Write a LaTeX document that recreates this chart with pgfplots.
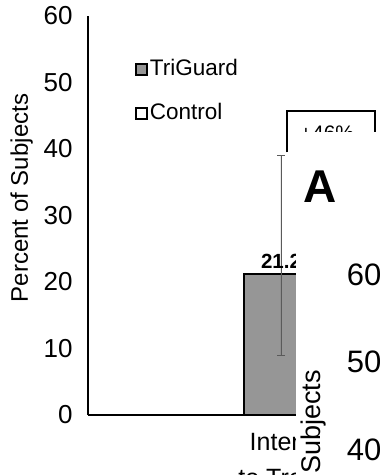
\documentclass[border=0pt]{standalone}
\usepackage{fontspec}
\setmainfont{Liberation Sans}
\usepackage{pgfplots}
\pgfplotsset{compat=1.18}
\definecolor{barGray}{RGB}{150,150,150}
\definecolor{errGray}{RGB}{90,90,90}
\begin{document}
\begin{tikzpicture}[x=1pt,y=1pt]
\useasboundingbox (0,0) rectangle (380,475);
\clip (0,0) rectangle (380,475);
\begin{axis}[
  at={(88pt,60pt)}, anchor=south west,
  scale only axis, width=300pt, height=399pt,
  xmin=0, xmax=300, ymin=0, ymax=60,
  axis x line=bottom, axis y line=left,
  axis line style={-, line width=1.8pt, black},
  ytick={0,10,20,30,40,50,60},
  xtick={193}, xticklabels={Intent\\[6pt]to Treat},
  xticklabel style={align=center, font=\fontsize{25}{30}\selectfont, yshift=-15pt},
  major tick length=0pt,
  /pgf/number format/assume math mode=true,
  yticklabel style={font=\fontsize{26}{30}\selectfont, xshift=-12pt},
  legend cell align=left,
  legend style={draw=none, fill=none, at={(0.155,0.897)}, anchor=north west,
    font=\fontsize{22.5}{26}\selectfont, row sep=19pt, inner sep=0pt,
    nodes={inner sep=2pt, text height=16pt, text depth=5pt}},
  clip=false,
]
\addplot[ybar, bar width=74pt, bar shift=0pt, fill=barGray, draw=black, line width=1.8pt,
  legend image code/.code={\draw[fill=barGray, draw=black, line width=2.2pt] (0pt,-5.5pt) rectangle (11pt,5.5pt);},
  nodes near coords,
  every node near coord/.append style={font=\bfseries\fontsize{20.5}{24}\selectfont, yshift=1pt, black},
  error bars/.cd, y dir=both, y explicit,
  error bar style={line width=0.8pt, errGray},
  error mark options={rotate=90, mark size=4pt, line width=0.8pt, errGray}]
  coordinates {(193,21.2) += (0,17.9) -= (0,12.3)};
\addlegendentry{TriGuard}
\addplot[ybar, bar width=74pt, bar shift=0pt, fill=white, draw=black, line width=1.8pt,
  legend image code/.code={\draw[fill=white, draw=black, line width=2.2pt] (0pt,-5.5pt) rectangle (11pt,5.5pt);}]
  coordinates {(281,14.5)};
\addlegendentry{Control}
\draw[line width=1.8pt] (axis cs:199,39.5) |- (axis cs:287,45.7) -- (axis cs:287,38);
\node[font=\fontsize{21}{25}\selectfont] at (axis cs:239,42.4) {+46\%};
\end{axis}
\node[rotate=90, font=\fontsize{24}{28}\selectfont, anchor=base] at (28,277) {Percent of Subjects};
% overlaid panel
\fill[white] (296,-2) rectangle (382,343);
\begin{axis}[
  at={(403pt,-323.6pt)}, anchor=south west,
  scale only axis, width=200pt, height=523.6pt,
  xmin=0, xmax=1, ymin=0, ymax=60,
  axis x line=bottom, axis y line=left,
  axis line style={-, line width=2pt, black},
  ytick={0,10,20,30,40,50,60}, xtick=\empty,
  major tick length=0pt,
  /pgf/number format/assume math mode=true,
  yticklabel style={font=\fontsize{31}{36}\selectfont, xshift=-18pt},
]
\end{axis}
\node[font=\bfseries\fontsize{46}{50}\selectfont] at (320,288) {A};
\node[rotate=90, anchor=base east, inner sep=0pt, font=\fontsize{27}{32}\selectfont] at (320,105) {Percent of Subjects};
\end{tikzpicture}
\end{document}
